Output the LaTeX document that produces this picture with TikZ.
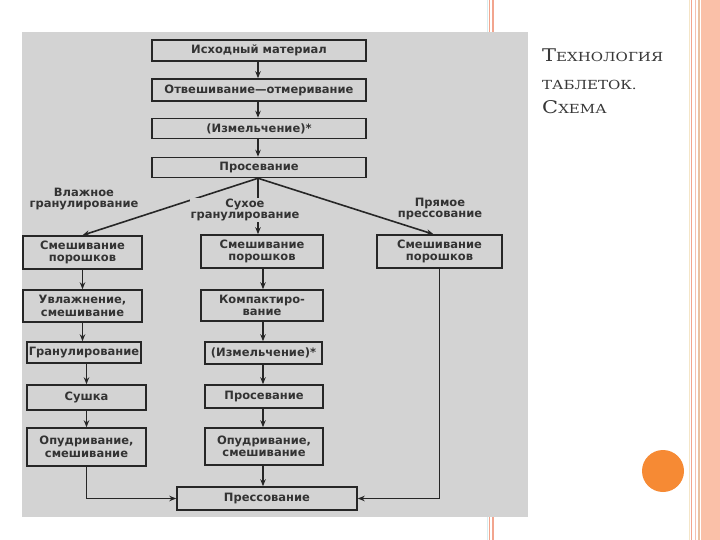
\documentclass[tikz,border=0pt]{standalone}
\usepackage{fontspec}
\usetikzlibrary{arrows.meta,calc}
\newfontfamily\boxfont{DejaVu Sans}
\newfontfamily\ttlfont[FakeStretch=1.2]{DejaVu Serif}
\definecolor{scan}{HTML}{D3D3D3}
\definecolor{ink}{HTML}{262626}
\definecolor{txt}{HTML}{333333}
\definecolor{salmon}{HTML}{F2A58E}
\definecolor{pale}{HTML}{D8EEF0}
\definecolor{paley}{HTML}{F4E6C8}
\definecolor{band}{HTML}{FAC0A8}
\definecolor{tanc}{HTML}{E9C2A2}
\definecolor{dot}{HTML}{F68A34}
\definecolor{ttl}{HTML}{383838}
\begin{document}
\begin{tikzpicture}[x=1pt,y=-1pt,
  stepbox/.style={draw=ink, line width=1.5pt, fill=scan, text=txt,
    font=\boxfont\bfseries\fontsize{11.5}{12.5}\selectfont, align=center, inner sep=0pt},
  lbl/.style={text=txt, font=\boxfont\bfseries\fontsize{11.5}{11}\selectfont, align=center, inner sep=1pt},
  arr/.style={draw=ink, line width=1.6pt, -{Stealth[length=7pt,width=5.5pt]}},
  ttlnode/.style={text=ttl, anchor=base west, inner sep=0pt, font=\ttlfont}]
\useasboundingbox (0,0) rectangle (720,540);
\fill[white] (0,0) rectangle (720,540);
% slide decorations
\draw[pale, line width=1pt] (487,0) -- (487,540);
\draw[salmon, line width=1.5pt] (489.5,0) -- (489.5,540);
\draw[salmon, line width=1.5pt] (493,0) -- (493,540);
\draw[paley, line width=1pt] (689,0) -- (689,540);
\draw[salmon, line width=1.5pt] (691.5,0) -- (691.5,540);
\draw[salmon!70, line width=1pt] (695,0) -- (695,540);
\draw[tanc, line width=2pt] (698.5,0) -- (698.5,540);
\fill[band] (700.5,0) rectangle (720,540);
\fill[dot] (663,471) circle (21);
% scanned area
\fill[scan] (22,32) rectangle (528,517);
% title
\node[ttlnode] (t1) at (542,62) {{\fontsize{17.5}{17}\selectfont Т}{\fontsize{12.5}{17}\selectfont ЕХНОЛОГИЯ}};
\node[ttlnode] (t2) at (542,90) {{\fontsize{12.5}{17}\selectfont ТАБЛЕТОК.}};
\node[ttlnode] (t3) at (542,114) {{\fontsize{17.5}{17}\selectfont С}{\fontsize{12.5}{17}\selectfont ХЕМА}};
% main column
\node[stepbox, minimum width=214pt, minimum height=21pt] (b1) at (259,50.5) {Исходный материал};
\node[stepbox, minimum width=214pt, minimum height=22pt] (b2) at (259,90) {Отвешивание—отмеривание};
\node[stepbox, minimum width=214pt, minimum height=20pt] (b3) at (259,128.5) {(Измельчение)*};
\node[stepbox, minimum width=214pt, minimum height=20pt] (b4) at (259,167.5) {Просевание};
% left column
\node[stepbox, minimum width=119pt, minimum height=33pt] (l1) at (82.5,252.5) {Смешивание\\порошков};
\node[stepbox, minimum width=119pt, minimum height=32pt] (l2) at (82.5,306) {Увлажнение,\\смешивание};
\node[stepbox, minimum width=114pt, minimum height=21pt] (l3) at (84,352.5) {Гранулирование};
\node[stepbox, minimum width=119pt, minimum height=25pt] (l4) at (86.5,397.5) {Сушка};
\node[stepbox, minimum width=119pt, minimum height=38pt] (l5) at (86.5,447) {Опудривание,\\смешивание};
% middle column
\node[stepbox, minimum width=122pt, minimum height=33pt] (m1) at (262,251.5) {Смешивание\\порошков};
\node[stepbox, minimum width=122pt, minimum height=31pt] (m2) at (262,305.5) {Компактиро-\\вание};
\node[stepbox, minimum width=117pt, minimum height=22pt] (m3) at (263.5,353) {(Измельчение)*};
\node[stepbox, minimum width=118pt, minimum height=23pt] (m4) at (264,396.5) {Просевание};
\node[stepbox, minimum width=118pt, minimum height=37pt] (m5) at (264,446.5) {Опудривание,\\смешивание};
\node[stepbox, minimum width=180pt, minimum height=23pt] (press) at (267,498.5) {Прессование};
% right column
\node[stepbox, minimum width=125pt, minimum height=33pt] (r1) at (439.5,251.5) {Смешивание\\порошков};
% connectors of main column
\coordinate (bx) at (258,0);
\draw[arr] (b1.south -| bx) -- (b2.north -| bx);
\draw[arr] (b2.south -| bx) -- (b3.north -| bx);
\draw[arr] (b3.south -| bx) -- (b4.north -| bx);
% branches
\draw[arr] (b4.south -| bx) -- (l1.north);
\draw[arr] (b4.south -| bx) -- (m1.north -| bx);
\draw[arr] (b4.south -| bx) -- ($(r1.north)+(-6,0)$);
\node[lbl] (lw) at (84,199) {Влажное\\гранулирование};
\node[lbl, fill=scan] (ld) at (245,210) {Сухое\\гранулирование};
\node[lbl] (lp) at (440,209) {Прямое\\прессование};
% left column connectors
\draw[arr] (l1.south) -- (l2.north);
\draw[arr] (l2.south) -- (l2.south |- l3.north);
\draw[arr] (l4.north |- l3.south) -- (l4.north);
\draw[arr] (l4.south) -- (l5.north);
\draw[arr] (l5.south) |- (press.west);
% middle column connectors
\coordinate (mx) at (263,0);
\draw[arr] (m1.south -| mx) -- (m2.north -| mx);
\draw[arr] (m2.south -| mx) -- (m3.north -| mx);
\draw[arr] (m3.south -| mx) -- (m4.north -| mx);
\draw[arr] (m4.south -| mx) -- (m5.north -| mx);
\draw[arr] (m5.south -| mx) -- (press.north -| mx);
% right column connector
\draw[arr] (r1.south) |- (press.east);
\end{tikzpicture}
\end{document}
